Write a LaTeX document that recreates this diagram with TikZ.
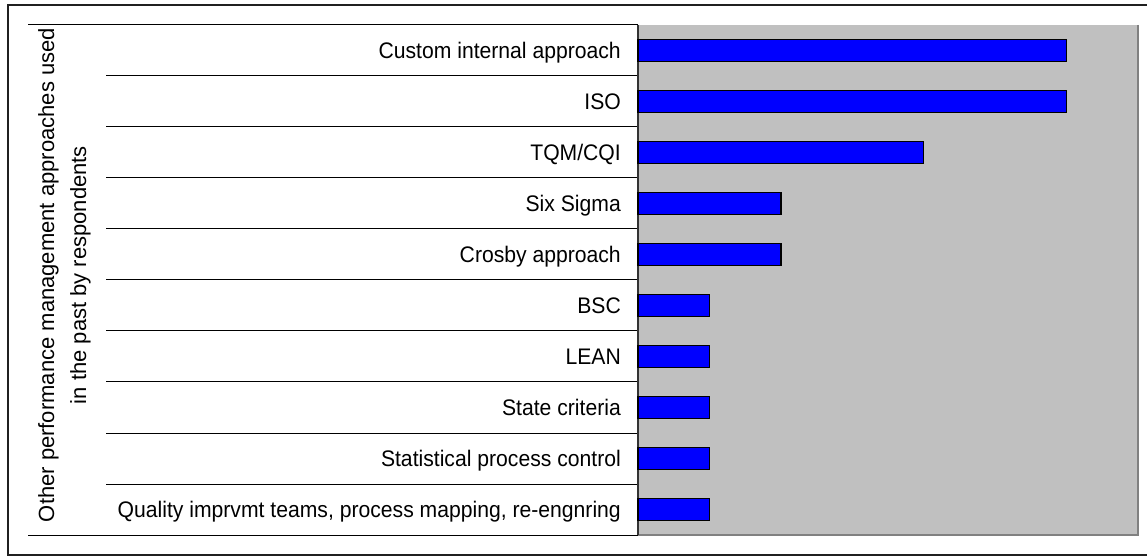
\documentclass[tikz,border=0pt]{standalone}
\usepackage{fontspec}
\setmainfont{Liberation Sans}
\newfontfamily\labfont[FakeStretch=0.94]{Liberation Sans}
\definecolor{plotgray}{HTML}{C0C0C0}
\definecolor{edgegray}{HTML}{808080}
\definecolor{barblue}{HTML}{0000FF}
\definecolor{framegray}{HTML}{202020}
\begin{document}
\begin{tikzpicture}[x=1bp,y=-1bp,
  catlabel/.style={anchor=base east,inner sep=0pt,font=\labfont\fontsize{22.5bp}{26bp}\selectfont},
  axtitle/.style={anchor=base,inner sep=0pt,rotate=90,font=\fontsize{22bp}{26bp}\selectfont},
  barbox/.style={draw=black,line width=1.5bp,fill=barblue},
  sepline/.style={draw=black,line width=1bp}]
\useasboundingbox (0,0) rectangle (1147,557);
\fill[white] (0,0) rectangle (1147,557);
% frame
\draw[framegray,line width=2bp] (1150,5) -- (8,5) -- (8,555) -- (1150,555);
% plot area
\fill[plotgray] (638,25) rectangle (1138,535);
\draw[edgegray,line width=2bp] (1138,25) -- (1138,535) -- (638,535);
% separators
\draw[sepline] (28,25) -- (638,25);
\foreach \k in {1,...,9} {
  \draw[sepline] (106,25+51*\k) -- (638,25+51*\k);
}
\draw[sepline] (28,535) -- (638,535);
% axis line
\draw[black!80,line width=1.5bp] (638,25) -- (638,535);
% bars and labels
\foreach \i/\v/\t in {0/6/{Custom internal approach},1/6/{ISO},2/4/{TQM/CQI},3/2/{Six Sigma},4/2/{Crosby approach},5/1/{BSC},6/1/{LEAN},7/1/{State criteria},8/1/{Statistical process control},9/1/{Quality imprvmt teams, process mapping, re-engnring}} {
  \pgfmathsetmacro{\c}{25+51*\i+25.5}
  \pgfmathsetmacro{\e}{638+500/7*\v}
  \path[barbox] (638,\c-11) rectangle (\e,\c+11);
  \node[catlabel] (lab\i) at (621,\c+7.8) {\t};
}
% axis title
\node[axtitle] (t1) at (54,275) {Other performance management approaches used};
\node[axtitle] (t2) at (86,275) {in the past by respondents};
\end{tikzpicture}
\end{document}
